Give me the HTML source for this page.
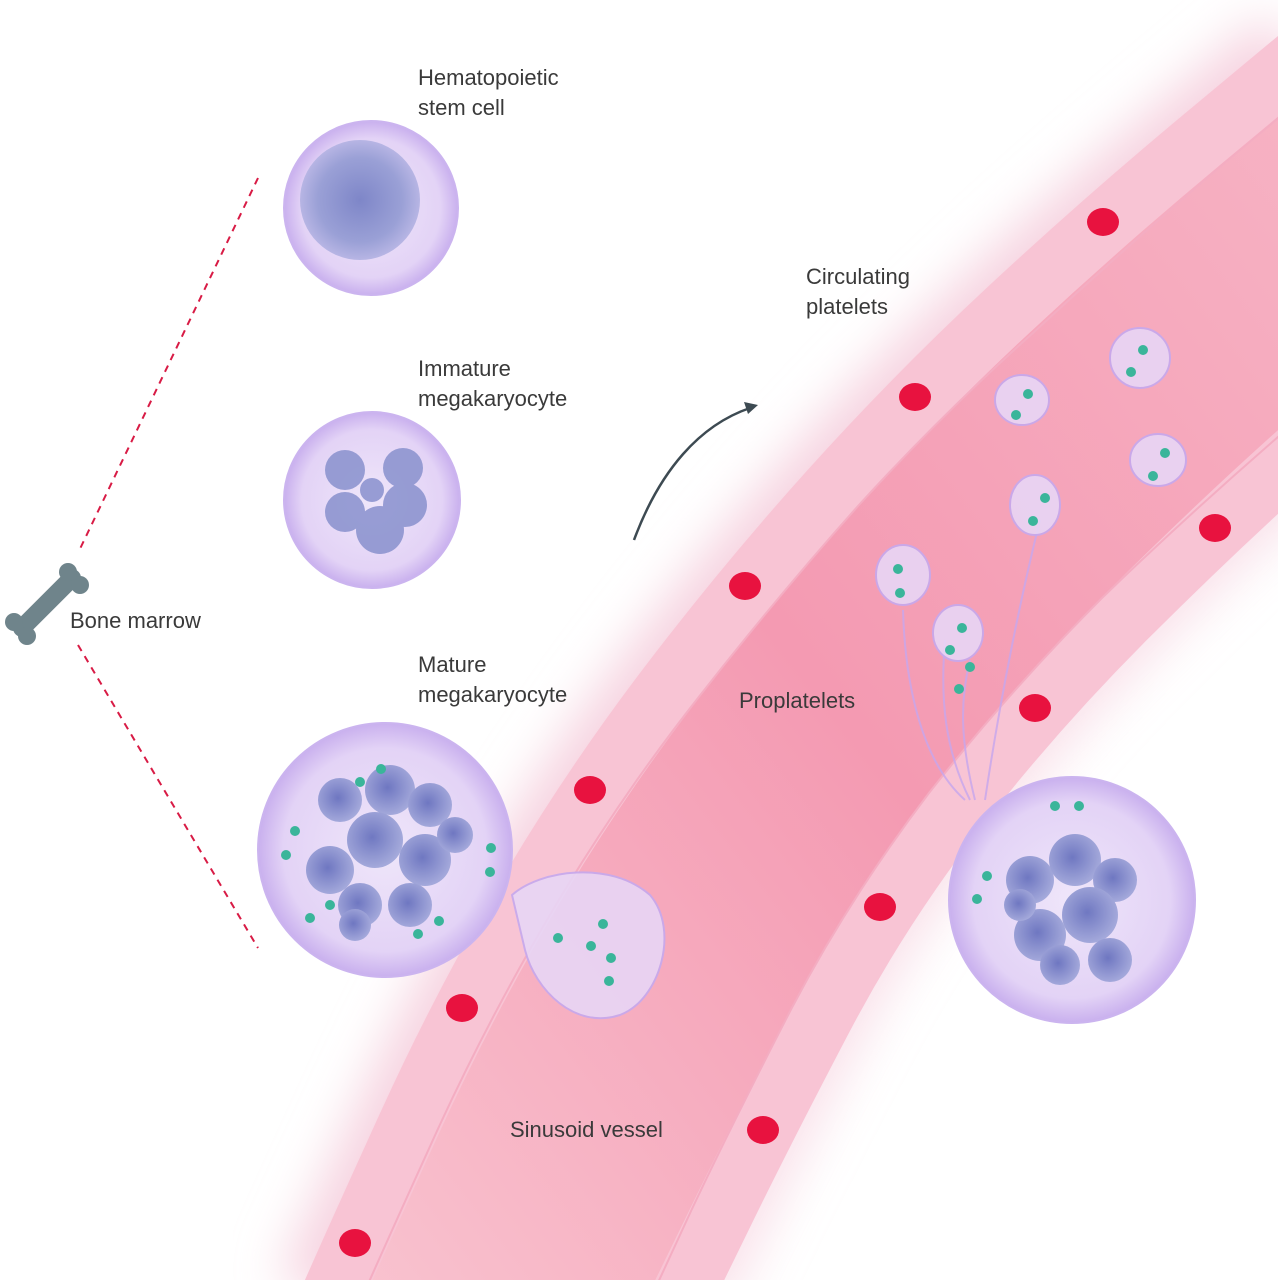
<!DOCTYPE html>
<html><head><meta charset="utf-8"><style>
html,body{margin:0;padding:0;background:#fff;}
svg{display:block;}
text{font-family:"Liberation Sans",sans-serif;font-size:22px;fill:#3a3a3a;}
</style></head><body>
<svg width="1278" height="1280" viewBox="0 0 1278 1280" xmlns="http://www.w3.org/2000/svg">
<defs>
<radialGradient id="cell" cx="50%" cy="50%" r="50%">
<stop offset="0" stop-color="#efe6fa"/><stop offset="0.8" stop-color="#e3d3f6"/><stop offset="1" stop-color="#c9b0ee"/>
</radialGradient>
<radialGradient id="nuc" cx="50%" cy="50%" r="50%">
<stop offset="0" stop-color="#7e86c8"/><stop offset="0.7" stop-color="#9aa0d6"/><stop offset="1" stop-color="#b7b5e4"/>
</radialGradient>
<radialGradient id="lob" cx="45%" cy="45%" r="55%">
<stop offset="0" stop-color="#5a66b8"/><stop offset="1" stop-color="#98a0d6"/>
</radialGradient>
<linearGradient id="lumen" x1="0" y1="1" x2="1" y2="0">
<stop offset="0" stop-color="#f9c4d0"/><stop offset="0.5" stop-color="#f49ab2"/><stop offset="1" stop-color="#f7b3c4"/>
</linearGradient>
<filter id="blur"><feGaussianBlur stdDeviation="25"/></filter>
</defs>
<!-- glow -->
<path d="M330,1300 Q355,1243 408.5,1125.5 Q462,1008 526,899 Q590,790 667.5,688 Q745,586 830,491.5 Q915,397 1009,309.5 Q1103,222 1201.5,140 L1300,58" fill="none" stroke="#f6d3e0" stroke-width="110" filter="url(#blur)"/>
<path d="M680,1300 L721.5,1215 Q763,1130 821.5,1018.5 Q880,907 957.5,807.5 Q1035,708 1125,618 Q1215,528 1300,452" fill="none" stroke="#f6d3e0" stroke-width="90" filter="url(#blur)" opacity="0.7"/>
<!-- lumen -->
<path d="M330,1300 Q355,1243 408.5,1125.5 Q462,1008 526,899 Q590,790 667.5,688 Q745,586 830,491.5 Q915,397 1009,309.5 Q1103,222 1201.5,140 L1300,58 L1300,452 Q1215,528 1125,618 Q1035,708 957.5,807.5 Q880,907 821.5,1018.5 Q763,1130 721.5,1215 L680,1300 Z" fill="url(#lumen)"/>
<!-- walls -->
<g fill="none" stroke="#f8c4d4" stroke-width="62">
<path d="M330,1300 Q355,1243 408.5,1125.5 Q462,1008 526,899 Q590,790 667.5,688 Q745,586 830,491.5 Q915,397 1009,309.5 Q1103,222 1201.5,140 L1300,58"/>
<path d="M680,1300 L721.5,1215 Q763,1130 821.5,1018.5 Q880,907 957.5,807.5 Q1035,708 1125,618 Q1215,528 1300,452"/>
</g>
<g fill="none" stroke="#f4adc2" stroke-width="2">
<path d="M361,1300 Q386,1243 439.5,1125.5 Q493,1010 557,903 Q621,796 698,698 Q776,598 858,506 Q942,414 1033,333 Q1125,248 1222,165 L1300,100"/>
<path d="M650,1300 L691.5,1210 Q733,1122 791.5,1008.5 Q850,897 929,793 Q1010,690 1102,598 Q1195,508 1300,418"/>
</g>
<!-- nuclei -->
<g fill="#e8123f">
<ellipse cx="355" cy="1243" rx="16" ry="14"/><ellipse cx="462" cy="1008" rx="16" ry="14"/>
<ellipse cx="590" cy="790" rx="16" ry="14"/><ellipse cx="745" cy="586" rx="16" ry="14"/>
<ellipse cx="915" cy="397" rx="16" ry="14"/><ellipse cx="1103" cy="222" rx="16" ry="14"/>
<ellipse cx="763" cy="1130" rx="16" ry="14"/><ellipse cx="880" cy="907" rx="16" ry="14"/>
<ellipse cx="1035" cy="708" rx="16" ry="14"/><ellipse cx="1215" cy="528" rx="16" ry="14"/>
</g>
<!-- dashed lines -->
<g stroke="#d81b45" stroke-width="2" stroke-dasharray="7,6">
<line x1="258" y1="178" x2="78" y2="553"/><line x1="78" y1="645" x2="258" y2="948"/>
</g>
<!-- bone -->
<g fill="#6f848b">
<line x1="22" y1="628" x2="72" y2="578" stroke="#6f848b" stroke-width="18" stroke-linecap="round"/>
<circle cx="68" cy="572" r="9"/><circle cx="80" cy="585" r="9"/>
<circle cx="14" cy="622" r="9"/><circle cx="27" cy="636" r="9"/>
</g>
<!-- HSC -->
<circle cx="371" cy="208" r="87" fill="url(#cell)" stroke="#cbb4ef" stroke-width="2"/>
<circle cx="360" cy="200" r="60" fill="url(#nuc)"/>
<!-- immature -->
<circle cx="372" cy="500" r="88" fill="url(#cell)" stroke="#cbb4ef" stroke-width="2"/>
<g fill="#8e95d0" opacity="0.9">
<circle cx="345" cy="470" r="20"/><circle cx="403" cy="468" r="20"/><circle cx="345" cy="512" r="20"/>
<circle cx="405" cy="505" r="22"/><circle cx="380" cy="530" r="24"/><circle cx="372" cy="490" r="12"/>
</g>
<!-- mature left -->
<circle cx="385" cy="850" r="127" fill="url(#cell)" stroke="#cbb4ef" stroke-width="2"/>
<g fill="url(#lob)" opacity="0.85">
<circle cx="340" cy="800" r="22"/><circle cx="390" cy="790" r="25"/><circle cx="430" cy="805" r="22"/>
<circle cx="330" cy="870" r="24"/><circle cx="375" cy="840" r="28"/><circle cx="425" cy="860" r="26"/>
<circle cx="455" cy="835" r="18"/><circle cx="360" cy="905" r="22"/><circle cx="410" cy="905" r="22"/>
<circle cx="355" cy="925" r="16"/>
</g>
<g fill="#3ab59a">
<circle cx="360" cy="782" r="5"/><circle cx="381" cy="769" r="5"/><circle cx="295" cy="831" r="5"/>
<circle cx="286" cy="855" r="5"/><circle cx="310" cy="918" r="5"/><circle cx="330" cy="905" r="5"/>
<circle cx="418" cy="934" r="5"/><circle cx="439" cy="921" r="5"/><circle cx="491" cy="848" r="5"/><circle cx="490" cy="872" r="5"/>
</g>
<!-- passing blob -->
<path d="M512,895 C540,870 610,860 650,895 C680,930 660,1000 620,1015 C575,1030 535,990 525,950 Z" fill="#e8d6f6" stroke="#c6a9ee" stroke-width="2" opacity="0.9"/>
<g fill="#3ab59a">
<circle cx="603" cy="924" r="5"/><circle cx="558" cy="938" r="5"/><circle cx="591" cy="946" r="5"/>
<circle cx="611" cy="958" r="5"/><circle cx="609" cy="981" r="5"/>
</g>
<!-- mature right -->
<circle cx="1072" cy="900" r="123" fill="url(#cell)" stroke="#cbb4ef" stroke-width="2"/>
<g fill="url(#lob)" opacity="0.85">
<circle cx="1030" cy="880" r="24"/><circle cx="1075" cy="860" r="26"/><circle cx="1115" cy="880" r="22"/>
<circle cx="1040" cy="935" r="26"/><circle cx="1090" cy="915" r="28"/><circle cx="1110" cy="960" r="22"/>
<circle cx="1060" cy="965" r="20"/><circle cx="1020" cy="905" r="16"/>
</g>
<g fill="#3ab59a">
<circle cx="1055" cy="806" r="5"/><circle cx="1079" cy="806" r="5"/><circle cx="987" cy="876" r="5"/><circle cx="977" cy="899" r="5"/>
</g>
<!-- proplatelets -->
<g fill="none" stroke="#c7a7ee" stroke-width="2" opacity="0.8">
<path d="M965,800 C920,760 905,680 903,610"/><path d="M970,800 C945,750 940,700 945,640"/>
<path d="M975,800 C960,740 960,700 970,660"/><path d="M985,800 C1000,700 1020,600 1040,520"/>
</g>
<g fill="#e8d6f6" stroke="#c6a9ee" stroke-width="2" opacity="0.9">
<ellipse cx="903" cy="575" rx="27" ry="30"/><ellipse cx="958" cy="633" rx="25" ry="28"/>
<ellipse cx="1035" cy="505" rx="25" ry="30"/><ellipse cx="1022" cy="400" rx="27" ry="25"/>
<ellipse cx="1140" cy="358" rx="30" ry="30"/><ellipse cx="1158" cy="460" rx="28" ry="26"/>
</g>
<g fill="#3ab59a">
<circle cx="898" cy="569" r="5"/><circle cx="900" cy="593" r="5"/><circle cx="962" cy="628" r="5"/><circle cx="950" cy="650" r="5"/>
<circle cx="970" cy="667" r="5"/><circle cx="959" cy="689" r="5"/><circle cx="1045" cy="498" r="5"/><circle cx="1033" cy="521" r="5"/>
<circle cx="1028" cy="394" r="5"/><circle cx="1016" cy="415" r="5"/><circle cx="1143" cy="350" r="5"/><circle cx="1131" cy="372" r="5"/>
<circle cx="1165" cy="453" r="5"/><circle cx="1153" cy="476" r="5"/>
</g>
<!-- arrow -->
<path d="M634,540 C660,470 700,425 750,408" fill="none" stroke="#3d4a52" stroke-width="2.5"/>
<path d="M758,405 L744,402 L748,414 Z" fill="#3d4a52"/>
<!-- labels -->
<text x="418" y="85">Hematopoietic</text><text x="418" y="115">stem cell</text>
<text x="418" y="376">Immature</text><text x="418" y="406">megakaryocyte</text>
<text x="418" y="672">Mature</text><text x="418" y="702">megakaryocyte</text>
<text x="70" y="628">Bone marrow</text>
<text x="806" y="284">Circulating</text><text x="806" y="314">platelets</text>
<text x="739" y="708">Proplatelets</text>
<text x="510" y="1137">Sinusoid vessel</text>
</svg>
</body></html>
